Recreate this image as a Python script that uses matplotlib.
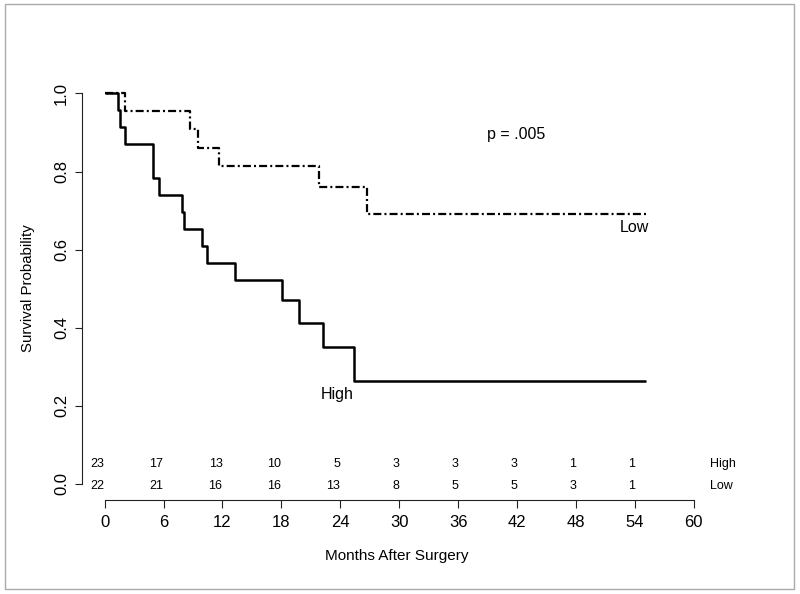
import matplotlib
matplotlib.use('Agg')
import matplotlib.pyplot as plt
from matplotlib.patches import Rectangle

plt.rcParams['font.family'] = ['Liberation Sans', 'DejaVu Sans']

# Kaplan-Meier step points
high_times = [0, 1.4, 1.6, 2.1, 4.9, 5.55, 7.9, 8.1, 9.95, 10.4, 13.3, 18.1, 19.8, 22.2, 25.4, 55.1]
high_surv = [1.0, 0.957, 0.913, 0.870, 0.783, 0.739, 0.696, 0.652, 0.609, 0.565, 0.522, 0.470, 0.411, 0.352, 0.264, 0.264]
low_times = [0, 2.1, 8.7, 9.5, 11.6, 21.8, 26.7, 55.4]
low_surv = [1.0, 0.955, 0.909, 0.861, 0.814, 0.761, 0.692, 0.692]

# numbers at risk
risk_times = [0, 6, 12, 18, 24, 30, 36, 42, 48, 54]
risk_high = [23, 17, 13, 10, 5, 3, 3, 3, 1, 1]
risk_low = [22, 21, 16, 16, 13, 8, 5, 5, 3, 1]

x_ticks = list(range(0, 61, 6))
y_ticks = [0.0, 0.2, 0.4, 0.6, 0.8, 1.0]

fig = plt.figure(figsize=(8, 5.94), dpi=100)
ax = fig.add_axes([0, 0, 1, 1])
ax.set_xlim(-10.65, 70.81)
ax.set_ylim(-0.2817, 1.2394)
ax.patch.set_visible(False)

ax.step(high_times, high_surv, where='post', color='black', lw=1.8, solid_capstyle='butt')
ax.step(low_times, low_surv, where='post', color='black', lw=1.6,
        dashes=(3.6, 1.4, 0.9, 1.4))

ax.text(41.9, 0.894, 'p = .005', fontsize=11.5, ha='center', va='center')
ax.text(55.4, 0.656, 'Low', fontsize=11.5, ha='right', va='center')
ax.text(23.7, 0.228, 'High', fontsize=11.5, ha='center', va='center')

# at-risk table
for t, h, l in zip(risk_times, risk_high, risk_low):
    ax.text(t, 0.0512, str(h), fontsize=9, ha='right', va='center')
    ax.text(t, -0.0051, str(l), fontsize=9, ha='right', va='center')
ax.text(61.6, 0.0512, 'High', fontsize=9, ha='left', va='center')
ax.text(61.6, -0.0051, 'Low', fontsize=9, ha='left', va='center')

# R style detached axes
for s in ['top', 'right']:
    ax.spines[s].set_visible(False)
ax.spines['left'].set_position(('data', -2.34))
ax.spines['left'].set_bounds(0, 1)
ax.spines['bottom'].set_position(('data', -0.041))
ax.spines['bottom'].set_bounds(0, 60)
for s in ['left', 'bottom']:
    ax.spines[s].set_linewidth(0.8)
    ax.spines[s].set_color('#222222')

ax.set_xticks(x_ticks)
ax.set_xticklabels([str(v) for v in x_ticks], fontsize=12)
ax.set_yticks(y_ticks)
ax.set_yticklabels(['%.1f' % v for v in y_ticks], fontsize=12, rotation=90, va='center')
ax.tick_params(axis='x', length=5.5, width=0.8, pad=5, color='#222222')
ax.tick_params(axis='y', length=5, width=0.8, pad=4, color='#222222')

fig.text(0.496, 0.064, 'Months After Surgery', fontsize=11, ha='center', va='center')
fig.text(0.035, 0.515, 'Survival Probability', fontsize=10.8, ha='center', va='center', rotation=90)

fig.patches.append(Rectangle((0.006, 0.008), 0.986, 0.985, transform=fig.transFigure,
                             fill=False, edgecolor='#aaaaaa', lw=1))

plt.savefig('out.png', dpi=100)
